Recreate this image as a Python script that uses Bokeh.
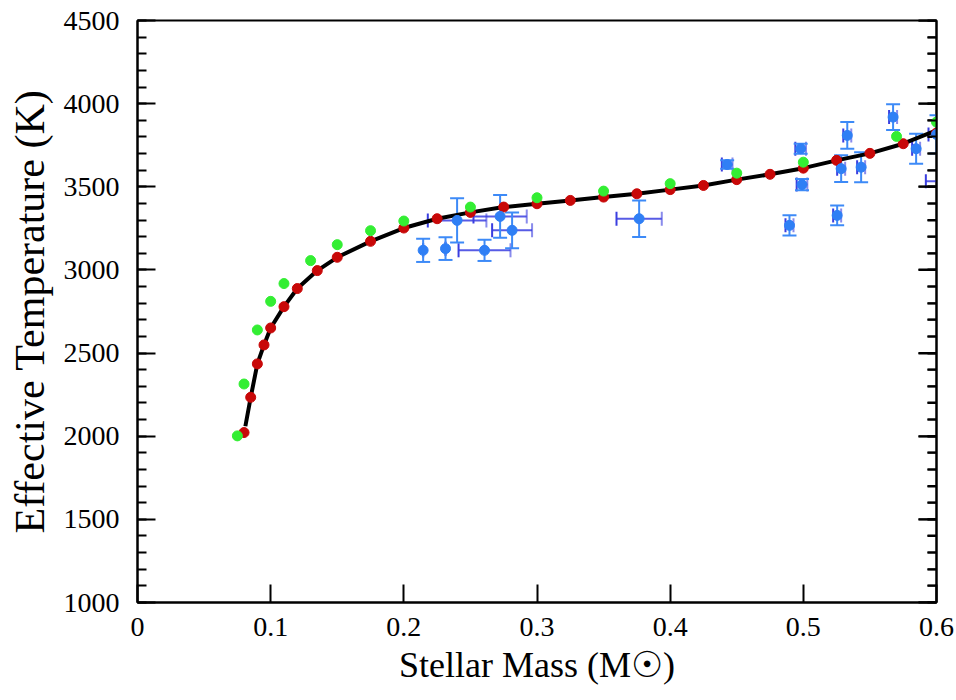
from bokeh.plotting import figure
from bokeh.models import Range1d, FixedTicker, LinearAxis, Whisker, TeeHead, ColumnDataSource
from bokeh.embed import file_html
from bokeh.resources import INLINE

# ---- data ----
# model curve (black line)
line_mass = [0.081, 0.085, 0.09, 0.095, 0.10, 0.11, 0.12, 0.135, 0.15, 0.175, 0.20, 0.225, 0.25,
             0.275, 0.30, 0.325, 0.35, 0.375, 0.40, 0.425, 0.45, 0.475, 0.50, 0.525, 0.55, 0.575, 0.60]
line_teff = [2060, 2234, 2435, 2549, 2651, 2779, 2888, 2996, 3076, 3172, 3252, 3308, 3346,
             3378, 3398, 3418, 3438, 3458, 3483, 3508, 3543, 3575, 3612, 3659, 3701, 3759, 3840]

# red model points
red_mass = [0.08, 0.085, 0.09, 0.095, 0.10, 0.11, 0.12, 0.135, 0.15, 0.175, 0.20, 0.225, 0.25,
            0.275, 0.30, 0.325, 0.35, 0.375, 0.40, 0.425, 0.45, 0.475, 0.50, 0.525, 0.55, 0.575, 0.60]
red_teff = [2022, 2234, 2435, 2549, 2651, 2779, 2888, 2996, 3076, 3172, 3252, 3308, 3346,
            3378, 3398, 3418, 3438, 3458, 3483, 3508, 3543, 3575, 3612, 3659, 3701, 3759, 3823]

# green model points
green_mass = [0.075, 0.08, 0.09, 0.10, 0.11, 0.13, 0.15, 0.175, 0.20, 0.25, 0.30, 0.35, 0.40,
              0.45, 0.50, 0.57, 0.60]
green_teff = [2002, 2314, 2639, 2811, 2918, 3056, 3152, 3236, 3294, 3378, 3434, 3474, 3519,
              3582, 3648, 3803, 3889]

# observed stars (blue) with errors
obs_mass = [0.2145, 0.2313, 0.240, 0.2606, 0.2723, 0.2813, 0.3767, 0.4428, 0.498, 0.499,
            0.4896, 0.5254, 0.5284, 0.533, 0.5434, 0.5674, 0.5847, 0.600, 0.612]
obs_teff = [3118, 3128, 3298, 3118, 3322, 3238, 3308, 3634, 3729, 3513,
            3268, 3328, 3609, 3809, 3618, 3919, 3729, 3815, 3534]
obs_terr = [70, 68, 133, 64, 129, 107, 110, 25, 30, 34,
            61, 60, 80, 80, 90, 78, 90, 115, 0]
obs_merr = [0.0, 0.0, 0.022, 0.0195, 0.020, 0.015, 0.017, 0.004, 0.004, 0.004,
            0.003, 0.003, 0.003, 0.003, 0.003, 0.003, 0.003, 0.006, 0.020]

x_ticks = [0, 0.1, 0.2, 0.3, 0.4, 0.5, 0.6]
x_tick_labels = ["0", "0.1", "0.2", "0.3", "0.4", "0.5", "0.6"]
y_ticks = [1000, 1500, 2000, 2500, 3000, 3500, 4000, 4500]
y_minor = [1000 + 100 * i for i in range(36)]

FONT = "Liberation Serif"

p = figure(width=956, height=700, output_backend="svg", toolbar_location=None,
           x_range=Range1d(0, 0.6), y_range=Range1d(1000, 4500),
           min_border_left=137, min_border_right=20, min_border_top=20, min_border_bottom=98,
           background_fill_color="white", border_fill_color="white")
p.grid.visible = False
p.outline_line_color = "black"
p.outline_line_width = 2

# bottom axis
xa = p.xaxis[0]
xa.ticker = FixedTicker(ticks=x_ticks, minor_ticks=[])
xa.major_label_overrides = {t: l for t, l in zip(x_ticks, x_tick_labels)}
xa.axis_label = "Stellar Mass (M☉)"
# left axis
ya = p.yaxis[0]
ya.ticker = FixedTicker(ticks=y_ticks, minor_ticks=y_minor)
ya.axis_label = "Effective Temperature (K)"
# right axis: ticks only, no labels
ra = LinearAxis(ticker=FixedTicker(ticks=y_ticks, minor_ticks=y_minor))
ra.major_label_text_color = None
ra.major_label_text_font_size = "0px"
ra.major_label_standoff = 0
p.add_layout(ra, "right")

for ax in (xa, ya, ra):
    ax.axis_line_color = "black"
    ax.axis_line_width = 2
    ax.major_tick_line_color = "black"
    ax.major_tick_line_width = 2
    ax.minor_tick_line_color = "black"
    ax.minor_tick_line_width = 2
    ax.major_tick_in = 18
    ax.major_tick_out = 0
    ax.minor_tick_in = 9
    ax.minor_tick_out = 0
    ax.axis_label_text_font = FONT
    ax.axis_label_text_font_style = "normal"
    ax.axis_label_text_color = "black"

for ax in (xa, ya):
    ax.major_label_text_font = FONT
    ax.major_label_text_color = "black"
    ax.major_label_text_font_size = "28px"

xa.major_label_standoff = 15
ya.major_label_standoff = 18
xa.axis_label_text_font_size = "36px"
ya.axis_label_text_font_size = "42px"
xa.axis_label_standoff = 6
ya.axis_label_standoff = 8

# extra inward ticks on the right edge, anchored just inside the frame
x_edge = x_ticks[-1] - 1e-6
p.ray(x=[x_edge] * len(y_minor), y=y_minor, length=9, length_units="screen",
      angle=180, angle_units="deg", line_color="black", line_width=2)
p.ray(x=[x_edge] * len(y_ticks), y=y_ticks, length=18, length_units="screen",
      angle=180, angle_units="deg", line_color="black", line_width=2)

# model curve
p.line(line_mass, line_teff, line_color="black", line_width=4)

# red and green model points
p.scatter(red_mass, red_teff, size=10, fill_color="#c80808", line_color="#c80808")
p.scatter(green_mass, green_teff, size=10, fill_color="#33ee33", line_color="#33ee33")

# observed points with error bars
src = ColumnDataSource(dict(
    x=obs_mass, y=obs_teff,
    yl=[t - e for t, e in zip(obs_teff, obs_terr)],
    yu=[t + e for t, e in zip(obs_teff, obs_terr)],
    xl=[m - e for m, e in zip(obs_mass, obs_merr)],
    xu=[m + e for m, e in zip(obs_mass, obs_merr)],
))
xcol = "#3a3ee0"
ycol = "#3d8af7"
wx = Whisker(source=src, base="y", lower="xl", upper="xu", dimension="width",
             line_color=xcol, line_width=2, line_alpha=0.85,
             lower_head=TeeHead(size=14, line_color=xcol, line_width=2),
             upper_head=TeeHead(size=14, line_color=xcol, line_width=2, line_alpha=0.6))
wy = Whisker(source=src, base="x", lower="yl", upper="yu", dimension="height",
             line_color=ycol, line_width=2,
             lower_head=TeeHead(size=14, line_color=ycol, line_width=2),
             upper_head=TeeHead(size=14, line_color=ycol, line_width=2))
p.add_layout(wx)
p.add_layout(wy)
p.scatter("x", "y", source=src, size=10, fill_color="#2f7ff5", line_color="#2f7ff5")

open("out.html", "w").write(file_html(p, INLINE))
